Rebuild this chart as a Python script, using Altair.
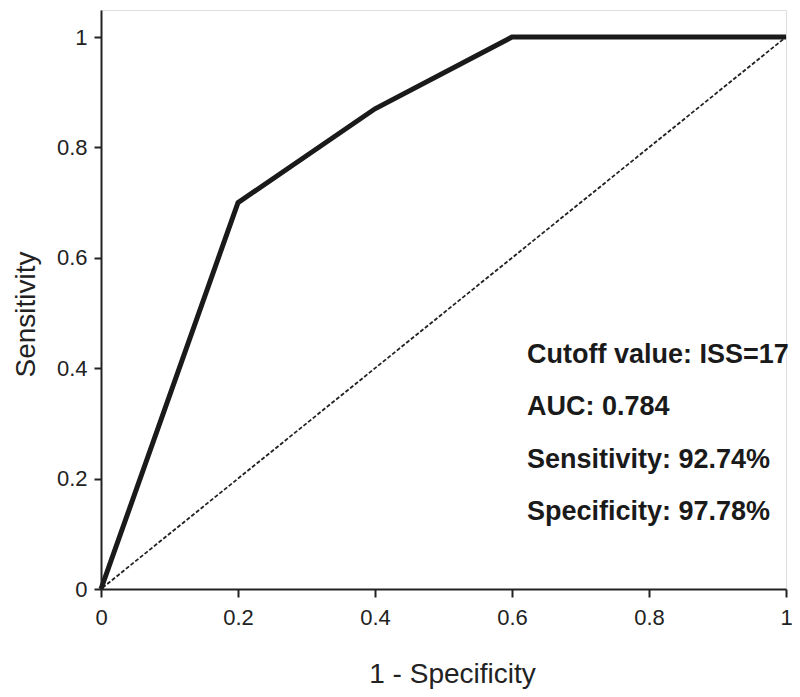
import altair as alt
import pandas as pd

# ROC curve points
fpr = [0.0, 0.2, 0.4, 0.6, 1.0]
tpr = [0.0, 0.7, 0.87, 1.0, 1.0]
# reference diagonal
diag_x = [0.0, 1.0]
diag_y = [0.0, 1.0]
tick_vals = [0, 0.2, 0.4, 0.6, 0.8, 1]
annotations = [
    "Cutoff value: ISS=17",
    "AUC: 0.784",
    "Sensitivity: 92.74%",
    "Specificity: 97.78%",
]

FONT = "Liberation Sans"

roc = pd.DataFrame({"x": fpr, "y": tpr, "o": list(range(len(fpr)))})
diag = pd.DataFrame({"x": diag_x, "y": diag_y})

xscale = alt.Scale(domain=[0, 1], nice=False, zero=False)
yscale = alt.Scale(domain=[0, 1.049], nice=False, zero=False)

xaxis = alt.Axis(
    title="1 - Specificity", values=tick_vals, format="~g", grid=False,
    labelFlush=False, labelOverlap=False,
    domainColor="#222", domainWidth=2, tickColor="#222", tickWidth=2, tickSize=8,
    labelFont=FONT, labelFontSize=22, labelColor="#222", labelPadding=10,
    titleFont=FONT, titleFontSize=28, titleFontWeight="normal", titleColor="#222",
    titleX=351, titleY=93, titleBaseline="alphabetic", titleAnchor="start", titleAlign="center",
)
yaxis = alt.Axis(
    title="Sensitivity", values=tick_vals, format="~g", grid=False,
    labelFlush=False, labelOverlap=False,
    domainColor="#222", domainWidth=2, tickColor="#222", tickWidth=2, tickSize=7,
    labelFont=FONT, labelFontSize=22, labelColor="#222", labelPadding=7,
    titleFont=FONT, titleFontSize=28, titleFontWeight="normal", titleColor="#222",
    titleX=-67, titleY=304, titleBaseline="alphabetic", titleAngle=-90, titleAlign="center",
)

diag_layer = alt.Chart(diag).mark_line(
    color="#222", strokeWidth=1.8, strokeDash=[4, 2], strokeDashOffset=-14
).encode(
    x=alt.X("x:Q", scale=xscale, axis=xaxis),
    y=alt.Y("y:Q", scale=yscale, axis=yaxis),
)

roc_layer = alt.Chart(roc).mark_line(
    color="#1a1a1a", strokeWidth=5, strokeJoin="miter"
).encode(
    x=alt.X("x:Q", scale=xscale),
    y=alt.Y("y:Q", scale=yscale),
    order="o:O",
)

text_layers = []
baselines_px = [353, 405, 458, 510]
for t, yb in zip(annotations, baselines_px):
    text_layers.append(
        alt.Chart(pd.DataFrame({"t": [t]})).mark_text(
            font=FONT, fontSize=27, fontWeight="bold", color="#1a1a1a",
            align="left", baseline="alphabetic",
        ).encode(x=alt.value(426), y=alt.value(yb), text="t:N")
    )

chart = alt.layer(diag_layer, roc_layer, *text_layers).properties(
    width=685, height=579,
    autosize=alt.AutoSizeParams(type="none"),
    padding={"left": 93, "top": 2, "right": 6, "bottom": 100},
).configure_view(stroke=None).configure(background="white")

chart.save("out.html", embed_options={"renderer": "svg", "actions": False})
